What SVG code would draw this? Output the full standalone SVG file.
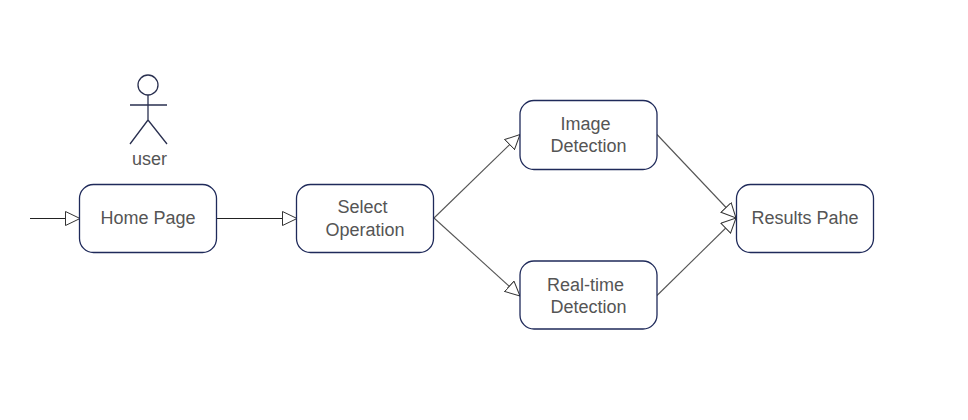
<svg xmlns="http://www.w3.org/2000/svg" width="968" height="420" viewBox="0 0 968 420">
<style>
.box{fill:#fff;stroke:#1f2a5a;stroke-width:1.3}
.t{font-family:"Liberation Sans",Arial,sans-serif;font-size:18px;fill:#555;text-anchor:middle}
.c{fill:none;stroke:#555;stroke-width:1.1}
.a{stroke:#333;stroke-width:1;fill:#fff}
.act{fill:none;stroke:#2a3050;stroke-width:1.3}
</style>
<defs>
<marker id="tri" markerUnits="userSpaceOnUse" viewBox="0 0 16 15" refX="15" refY="7.500" markerWidth="16" markerHeight="15" orient="auto"><path class="a" d="M0.500 0.500L15 7.500L0.500 14.500Z"/></marker>
</defs>
<rect width="968" height="420" fill="#fff"/>
<g id="connectors">
<path class="c" style="stroke:#222" marker-end="url(#tri)" d="M30 218.500H80"/>
<path class="c" style="stroke:#222" marker-end="url(#tri)" d="M217 218.500H297"/>
<path class="c" marker-end="url(#tri)" d="M434 218L520 134.500"/>
<path class="c" marker-end="url(#tri)" d="M434 218L520 296"/>
<path class="c" marker-end="url(#tri)" d="M657 134.500L736 218"/>
<path class="c" marker-end="url(#tri)" d="M657 295.500L736 218"/>
</g>
<g id="actor-user">
<circle class="act" cx="148" cy="85" r="10"/>
<path class="act" d="M148 95V120M130 105H167M148 120L130 144M148 120L167 144"/>
<text class="t" x="149.500" y="165">user</text>
</g>
<g id="home"><rect class="box" x="79.500" y="184.500" width="137" height="68" rx="14"/><text class="t" x="148" y="224">Home Page</text></g>
<g id="select"><rect class="box" x="296.500" y="184.500" width="137" height="68" rx="14"/><text class="t" x="362.500" y="213">Select</text><text class="t" x="365" y="235.500">Operation</text></g>
<g id="image"><rect class="box" x="520" y="100.500" width="137" height="69" rx="14"/><text class="t" x="585.500" y="129.500">Image</text><text class="t" x="588.500" y="151.500">Detection</text></g>
<g id="realtime"><rect class="box" x="520" y="261" width="137" height="68" rx="14"/><text class="t" x="585.500" y="290.500">Real-time</text><text class="t" x="588.500" y="312.500">Detection</text></g>
<g id="results"><rect class="box" x="736.500" y="184.500" width="137" height="68" rx="14"/><text class="t" x="805" y="223.500">Results Pahe</text></g>
</svg>
